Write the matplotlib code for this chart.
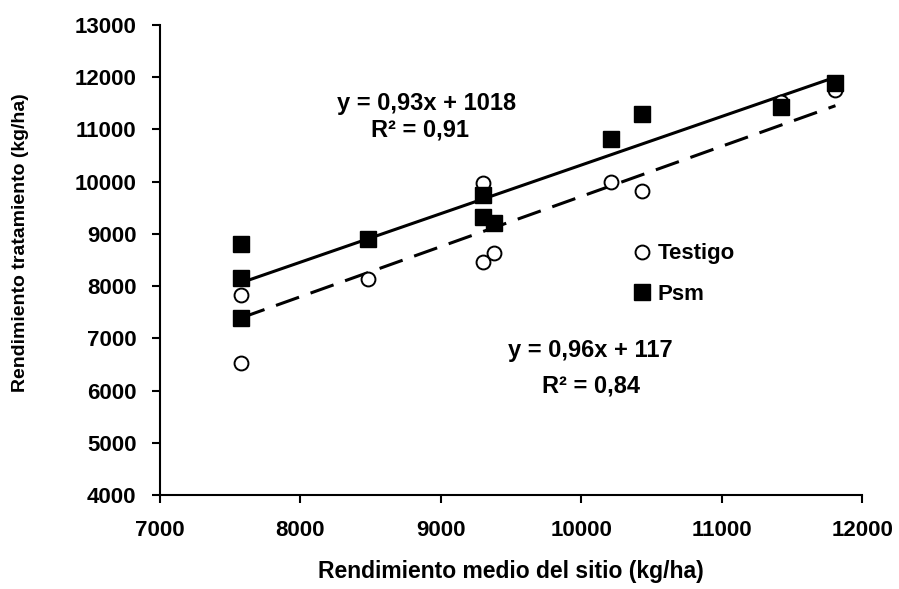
import numpy as np
import matplotlib
matplotlib.use("Agg")
import matplotlib.pyplot as plt

plt.rcParams['font.family'] = ['Liberation Sans', 'DejaVu Sans']
plt.rcParams['font.weight'] = 'bold'

# Data
testigo_x = [7580, 7580, 8480, 9300, 9300, 9380, 10210, 10430, 11420, 11810]
testigo_y = [6530, 7830, 8140, 9980, 8460, 8640, 10000, 9820, 11530, 11760]

psm_x = [7580, 7580, 7580, 8480, 9300, 9300, 9380, 10210, 10430, 11420, 11810]
psm_y = [8810, 8160, 7390, 8900, 9750, 9330, 9210, 10820, 11300, 11430, 11890]

# Regression coefficients as printed on the chart
psm_fit = (0.93, 1018, 0.91)
testigo_fit = (0.96, 117, 0.84)

fig = plt.figure(figsize=(8.99, 5.89), dpi=100)
ax = fig.add_axes([0.178, 0.1596, 0.781, 0.798])

# trend lines
xs = np.array([min(psm_x), max(psm_x)])
ax.plot(xs, psm_fit[0] * xs + psm_fit[1], color='black', lw=2.2, zorder=2)
xt = np.array([min(testigo_x), max(testigo_x)])
ax.plot(xt, testigo_fit[0] * xt + testigo_fit[1], color='black', lw=2.2,
        dashes=(8, 4), zorder=2)

# points
ax.plot(testigo_x, testigo_y, 'o', ms=10, mfc='white', mec='black', mew=1.4,
        label='Testigo', zorder=3)
ax.plot(psm_x, psm_y, 's', ms=11, mfc='black', mec='black',
        label='Psm', zorder=4)

ax.set_xlim(7000, 12000)
ax.set_ylim(4000, 13000)
ax.set_xticks(np.arange(7000, 12001, 1000))
ax.set_yticks(np.arange(4000, 13001, 1000))

for s in ['top', 'right']:
    ax.spines[s].set_visible(False)
for s in ['left', 'bottom']:
    ax.spines[s].set_linewidth(1.5)

ax.tick_params(axis='both', direction='out', length=6, width=1.5, labelsize=16)
ax.tick_params(axis='x', pad=12)
ax.tick_params(axis='y', pad=11)

ax.set_xlabel('Rendimiento medio del sitio (kg/ha)', fontsize=16.5,
              fontweight='bold', labelpad=14)
fig.text(21 / 899, 1 - 243 / 589, 'Rendimiento tratamiento (kg/ha)',
         rotation=90, ha='center', va='center', fontsize=14, fontweight='bold')

ax.text(8895, 11375, 'y = 0,93x + 1018', ha='center', va='baseline',
        fontsize=17, fontweight='bold')
ax.text(8852, 10858, 'R² = 0,91', ha='center', va='baseline',
        fontsize=17, fontweight='bold')
ax.text(10063, 6644, 'y = 0,96x + 117', ha='center', va='baseline',
        fontsize=17, fontweight='bold')
ax.text(10070, 5954, 'R² = 0,84', ha='center', va='baseline',
        fontsize=17, fontweight='bold')

ax.legend(loc='upper left', bbox_to_anchor=(0.658, 0.554), frameon=False,
          fontsize=16, handletextpad=0.2, labelspacing=0.86,
          handlelength=1.0, borderaxespad=0)

fig.savefig('out.png', dpi=100)
